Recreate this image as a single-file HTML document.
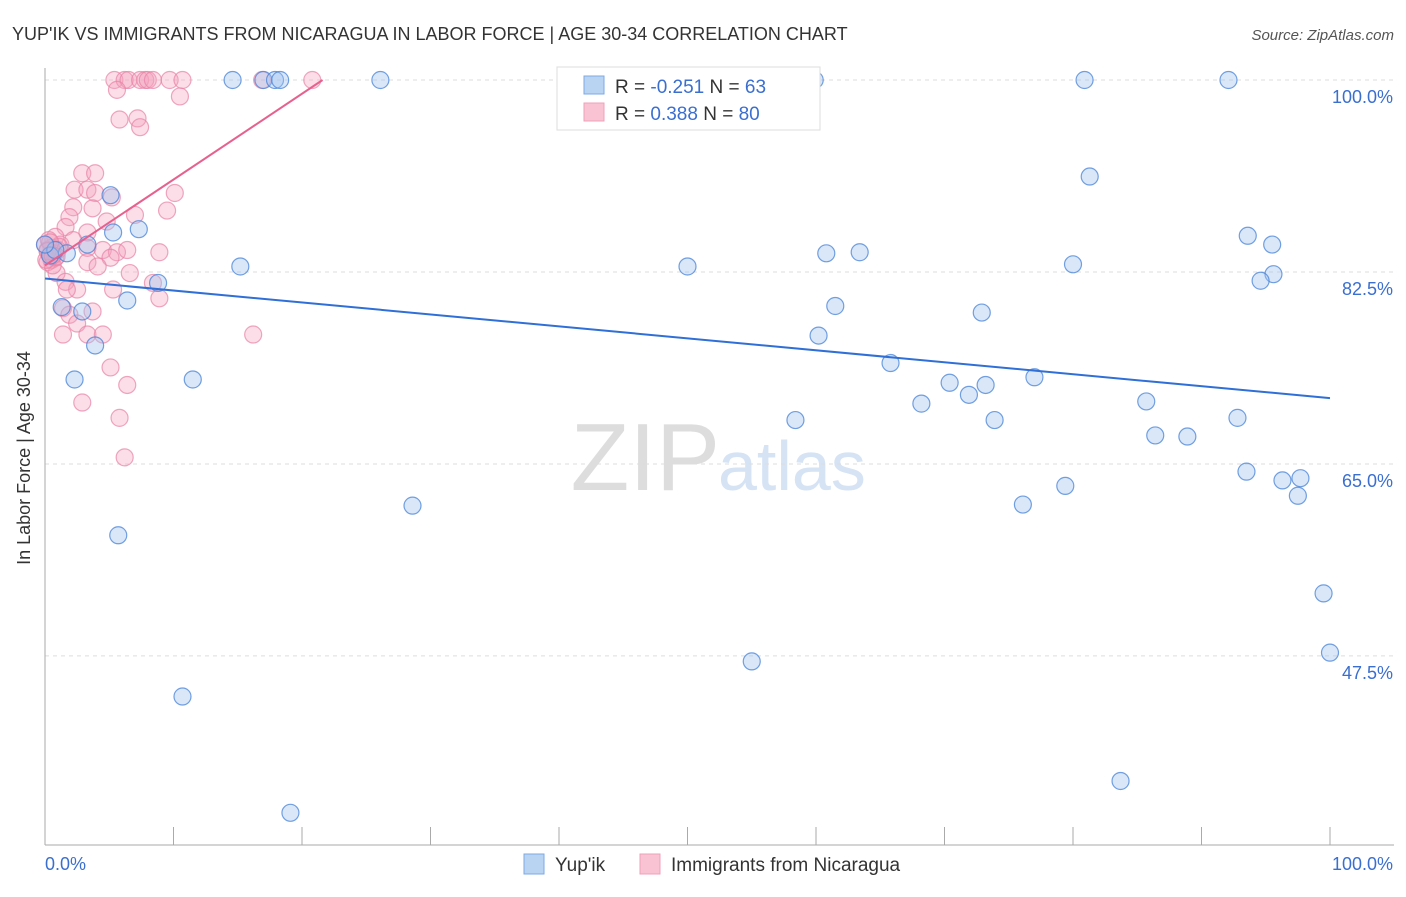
<!DOCTYPE html>
<html><head><meta charset="utf-8"><style>
body{margin:0;background:#fff;font-family:"Liberation Sans",sans-serif;}
svg text{font-family:"Liberation Sans",sans-serif;}
</style></head><body>
<svg id="chart" width="1406" height="892" xmlns="http://www.w3.org/2000/svg">
<text x="12" y="40" font-size="18" fill="#333">YUP'IK VS IMMIGRANTS FROM NICARAGUA IN LABOR FORCE | AGE 30-34 CORRELATION CHART</text>
<text x="1394" y="40" font-size="15" fill="#555" font-style="italic" text-anchor="end">Source: ZipAtlas.com</text>
<text x="30" y="458" font-size="18" fill="#333" text-anchor="middle" transform="rotate(-90 30 458)">In Labor Force | Age 30-34</text>
<text x="720" y="490" font-size="96" fill="#ddd" text-anchor="end" font-family="Liberation Serif">ZIP</text>
<text x="718" y="490" font-size="70" fill="#d5e3f5">atlas</text>
<g id="grid"></g><g id="axes"></g><g id="pink"></g><g id="blue"></g><g id="lines"></g>
<g>
<rect x="557" y="67" width="263" height="63" fill="#fff" stroke="#ddd"/>
<rect x="584" y="76" width="20" height="18" fill="#b9d3f3" stroke="#7fa8e0"/>
<rect x="584" y="103" width="20" height="18" fill="#f9c3d3" stroke="#eea0b8"/>
<text x="615" y="93" font-size="19" fill="#333">R = <tspan fill="#3a6fd0">-0.251</tspan>   N = <tspan fill="#3a6fd0">63</tspan></text>
<text x="615" y="120" font-size="19" fill="#333">R =  <tspan fill="#3a6fd0">0.388</tspan>   N = <tspan fill="#3a6fd0">80</tspan></text>
</g>
<g>
<rect x="524" y="854" width="20" height="20" fill="#b9d3f3" stroke="#7fa8e0"/>
<text x="555" y="871" font-size="19" fill="#333">Yup'ik</text>
<rect x="640" y="854" width="20" height="20" fill="#f9c3d3" stroke="#eea0b8"/>
<text x="671" y="871" font-size="19" fill="#333">Immigrants from Nicaragua</text>
</g>
</svg>
<script>
const yTicks=[100,82.5,65,47.5];
const yTickLabels=["100.0%","82.5%","65.0%","47.5%"];
const blueX=[14.6,17.0,17.9,18.3,26.1,41.6,59.9,80.9,92.1,81.3,93.6,95.5,95.6,94.6,80.0,60.8,63.4,50.0,15.2,61.5,72.9,60.2,65.8,70.4,73.2,71.9,77.0,68.2,58.4,73.9,85.7,86.4,88.9,92.8,93.5,96.3,97.7,97.5,79.4,76.1,99.5,100,55.0,83.7,10.7,19.1,28.6,5.7,11.5,2.3,1.3,2.9,3.9,6.4,8.8,5.1,7.3,5.3,3.3,1.7,0.4,0.8,0];
const blueY=[100,100,100,100,100,100,100,100,100,91.2,85.8,85.0,82.3,81.7,83.2,84.2,84.3,83.0,83.0,79.4,78.8,76.7,74.2,72.4,72.2,71.3,72.9,70.5,69.0,69.0,70.7,67.6,67.5,69.2,64.3,63.5,63.7,62.1,63.0,61.3,53.2,47.8,47.0,36.1,43.8,33.2,61.2,58.5,72.7,72.7,79.3,78.9,75.8,79.9,81.5,89.5,86.4,86.1,85.0,84.2,84.0,84.5,85.0];
const pinkX=[5.4,6.2,6.5,7.4,7.8,8.0,8.4,9.7,10.7,16.9,20.8,5.6,10.5,5.8,7.2,7.4,2.9,3.9,2.3,3.3,3.9,5.2,10.1,2.2,3.7,9.5,1.9,7.0,4.8,3.3,1.6,0.8,1.2,2.2,0.5,3.3,4.5,5.6,6.4,8.9,3.3,5.1,4.1,6.6,0.9,1.6,2.5,8.4,5.3,8.9,1.7,1.4,3.7,1.9,2.5,1.4,3.3,4.5,16.2,5.1,6.4,2.9,5.8,6.2,0,0.2,0.4,0.5,0.2,0.8,1.0,0.6,0.3,0.7,1.1,0.1,0.4,0.9,0.2,0.6];
const pinkY=[100,100,100,100,100,100,100,100,100,100,100,99.1,98.5,96.4,96.5,95.7,91.5,91.5,90.0,90.0,89.7,89.3,89.7,88.4,88.3,88.1,87.5,87.7,87.1,86.1,86.6,85.7,85.0,85.4,84.7,84.7,84.5,84.3,84.5,84.3,83.4,83.8,83.0,82.4,82.4,81.6,80.9,81.5,80.9,80.1,80.9,79.2,78.9,78.6,77.8,76.8,76.8,76.8,76.8,73.8,72.2,70.6,69.2,65.6,85.0,84.5,84.0,83.6,83.4,83.8,84.5,83.1,85.4,84.2,84.8,83.6,85.2,83.9,84.4,84.0];
const blueTrend=[81.9,71.0];
const pinkTrend=[83.1,100,21.6];
const NS="http://www.w3.org/2000/svg";
const X0=45,X1=1330,Y100=80,PXPER=10.97;
function sx(v){return X0+(X1-X0)*v/100;}
function sy(v){return Y100+(100-v)*PXPER;}
function mk(t,a,p){const e=document.createElementNS(NS,t);for(const k in a)e.setAttribute(k,a[k]);p.appendChild(e);return e;}
const grid=document.getElementById('grid'),axes=document.getElementById('axes');
yTicks.forEach((t,i)=>{
 const l=mk('line',{x1:X0,x2:1394,y1:sy(t),y2:sy(t),stroke:'#ddd','stroke-dasharray':'4,4'},grid);
 
 
 const tx=mk('text',{x:1393,y:sy(t)+23,'font-size':18,fill:'#3a6fd0','text-anchor':'end'},axes);
 tx.textContent=yTickLabels[i];
 
 
});
const ya=mk('line',{x1:X0,x2:X0,y1:68,y2:845,stroke:'#aaa'},axes);


const xa=mk('line',{x1:X0,x2:1394,y1:845,y2:845,stroke:'#aaa'},axes);


for(let i=0;i<=10;i++){const t=mk('line',{x1:sx(i*10),x2:sx(i*10),y1:827,y2:845,stroke:'#aaa'},axes);
 
 }
const xl0=mk('text',{x:45,y:870,'font-size':18,fill:'#3a6fd0'},axes);xl0.textContent='0.0%';


const xl1=mk('text',{x:1393,y:870,'font-size':18,fill:'#3a6fd0','text-anchor':'end'},axes);xl1.textContent='100.0%';


const pg=document.getElementById('pink'),bg=document.getElementById('blue'),lg=document.getElementById('lines');
pinkX.forEach((v,i)=>{const c=mk('circle',{cx:sx(v),cy:sy(pinkY[i]),r:8.5,fill:'rgba(244,160,188,0.35)',stroke:'rgba(232,130,165,0.7)','stroke-width':1.2},pg);
 
 });
blueX.forEach((v,i)=>{const c=mk('circle',{cx:sx(v),cy:sy(blueY[i]),r:8.5,fill:'rgba(160,195,240,0.4)',stroke:'rgba(70,130,215,0.75)','stroke-width':1.2},bg);
 
 });
const bl=mk('line',{x1:sx(0),y1:sy(blueTrend[0]),x2:sx(100),y2:sy(blueTrend[1]),stroke:'#2f6fd6','stroke-width':2},lg);


const pl=mk('line',{x1:sx(0),y1:sy(pinkTrend[0]),x2:sx(pinkTrend[2]),y2:sy(pinkTrend[1]),stroke:'#e8608e','stroke-width':2},lg);


</script>
</body></html>
